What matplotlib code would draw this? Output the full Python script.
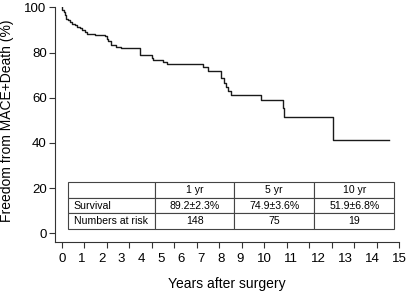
import matplotlib
matplotlib.use("Agg")
import matplotlib.pyplot as plt

plt.rcParams['font.family'] = ['Liberation Sans', 'DejaVu Sans']

# Kaplan-Meier step data (time in years, survival %)
times = [0.0, 0.03, 0.08, 0.14, 0.2, 0.28, 0.36, 0.47, 0.58, 0.7, 0.8, 0.92, 1.02, 1.14,
         1.47, 1.91, 2.0, 2.06, 2.2, 2.43, 2.65, 3.47, 3.56, 4.0, 4.07, 4.5, 4.7,
         6.29, 6.5, 7.1, 7.2, 7.3, 7.4, 7.55, 8.86, 9.82, 9.87, 12.07, 14.57]
survival = [100.0, 99.0, 97.9, 96.5, 95.0, 94.2, 93.6, 92.8, 92.1, 91.5, 90.9, 90.0, 89.2, 88.0,
            87.7, 87.2, 86.0, 85.0, 83.5, 82.5, 81.8, 78.7, 78.7, 77.5, 76.8, 75.8, 74.9,
            73.4, 71.9, 68.6, 66.5, 64.6, 63.1, 61.0, 59.0, 55.5, 51.7, 41.4, 41.4]

x_ticks = list(range(0, 16))
x_tick_labels = [str(v) for v in x_ticks]
y_ticks = [0, 20, 40, 60, 80, 100]

col_labels = ["", "1 yr", "5 yr", "10 yr"]
row_survival = ["Survival", "89.2\u00b12.3%", "74.9\u00b13.6%", "51.9\u00b16.8%"]
row_risk = ["Numbers at risk", "148", "75", "19"]

W, H = 409, 291
fig = plt.figure(figsize=(W / 100, H / 100), dpi=100)
ax = fig.add_axes([55 / W, (H - 242) / H, (399 - 55) / W, (242 - 7.3) / H])

ax.step(times, survival, where='post', color='#1a1a1a', lw=1.0)

ax.set_xlim(-0.3, 15)
ax.set_ylim(-3.8, 100)
ax.set_xticks(x_ticks)
ax.set_xticklabels([])
ax.set_yticks(y_ticks)
ax.tick_params(axis='both', labelsize=9.5, length=4, width=0.8, color='#333333', pad=2)
for s in ['top', 'right']:
    ax.spines[s].set_visible(False)
for s in ['left', 'bottom']:
    ax.spines[s].set_color('#333333')
    ax.spines[s].set_linewidth(0.8)

# x tick labels typeset as an evenly-gapped run of text (as in the original figure)
fs = 9.5
digit_w = 0.556 * fs * 100 / 72
gap = 12.5
cx = 62.0
prev_w = None
for lab in x_tick_labels:
    w = len(lab) * digit_w
    if prev_w is not None:
        cx += prev_w / 2 + gap + w / 2
    fig.text(cx / W, (H - 258.5) / H, lab, fontsize=fs, ha='center', va='center')
    prev_w = w

ax.set_xlabel("Years after surgery", fontsize=10, labelpad=19)
ax.set_ylabel("Freedom from MACE+Death (%)", fontsize=10)
ax.yaxis.set_label_coords(-0.118, 0.515)

# table
x0, x1 = 0.27, 14.79
y0, y1 = 2.0, 22.65
xlim = ax.get_xlim(); ylim = ax.get_ylim()
bx = (x0 - xlim[0]) / (xlim[1] - xlim[0])
by = (y0 - ylim[0]) / (ylim[1] - ylim[0])
bw = (x1 - x0) / (xlim[1] - xlim[0])
bh = (y1 - y0) / (ylim[1] - ylim[0])
colw = [4.15 - 0.27, 7.67 - 4.15, 11.23 - 7.67, 14.79 - 11.23]
tot = sum(colw)
colw = [c / tot for c in colw]
tbl = ax.table(cellText=[col_labels, row_survival, row_risk],
               colWidths=colw, bbox=[bx, by, bw, bh], cellLoc='center')
tbl.auto_set_font_size(False)
tbl.set_fontsize(7.6)
for (r, c), cell in tbl.get_celld().items():
    cell.set_edgecolor('#444444')
    cell.set_linewidth(0.8)
    cell.set_facecolor('white')
    if c == 0:
        cell.set_text_props(ha='left')
        cell.PAD = 0.07

fig.savefig("out.png", dpi=100)
